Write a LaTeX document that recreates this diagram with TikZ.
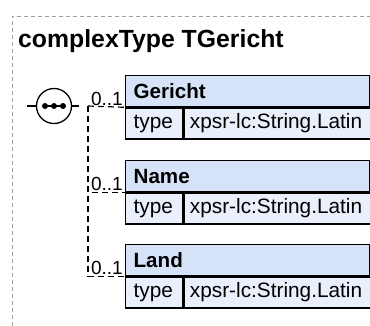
\documentclass[tikz,border=0pt]{standalone}
\usepackage{fontspec}
\setmainfont{Liberation Sans}
\definecolor{headblue}{RGB}{214,226,247}
\definecolor{rowblue}{RGB}{234,240,251}
\definecolor{framegray}{RGB}{160,160,160}
\begin{document}
\begin{tikzpicture}[x=1pt,y=-1pt,
  elhead/.style={draw, line width=1.3pt, fill=headblue, anchor=north west,
    minimum height=31pt, inner xsep=8pt, inner ysep=0pt, text width=228pt,
    align=left, font=\fontsize{20.6}{24}\selectfont\bfseries},
  typecell/.style={draw, line width=1.3pt, fill=rowblue, anchor=north west,
    minimum height=31pt, inner xsep=8pt, inner ysep=0pt, text width=41pt,
    align=left, font=\fontsize{20.8}{24}\selectfont},
  valcell/.style={typecell, inner xsep=6pt, text width=175pt},
  optline/.style={line width=1.2pt, dash pattern=on 6pt off 4pt},
  card/.style={anchor=south east, inner xsep=2pt, inner ysep=1pt,
    font=\fontsize{19}{21}\selectfont}]
  \useasboundingbox (0,0) rectangle (370,325);
  % frame of the complex type
  \draw[framegray, line width=0.8pt, dash pattern=on 4pt off 3pt]
    (12,340) -- (12,16) -- (385,16);
  \node[anchor=base west, inner sep=0pt, font=\fontsize{24.8}{28}\selectfont\bfseries]
    (title) at (18,47) {complexType TGericht};
  % sequence
  \node[draw, circle, line width=1.3pt, minimum size=35pt, inner sep=0pt] (seq) at (54,106) {};
  \draw[line width=1.5pt] (45,106) -- (63,106);
  \fill (45,106) circle (3);
  \fill (54,106) circle (3);
  \fill (63,106) circle (3);
  \coordinate (seqin) at (27,106);
  \coordinate (seqout) at (79,106);
  \coordinate (fork) at (88,106);
  \draw[line width=1.2pt] (seqin) -- (seq.west);
  \draw[line width=1.2pt] (seq.east) -- (seqout);
  % elements
  \node[elhead] (gericht) at (125,75) {Gericht};
  \node[typecell] (gerichttype) at (gericht.south west) {type};
  \node[valcell] (gerichtval) at (gerichttype.north east) {xpsr-lc:String.Latin};
  \node[elhead] (name) at (125,160) {Name};
  \node[typecell] (nametype) at (name.south west) {type};
  \node[valcell] (nameval) at (nametype.north east) {xpsr-lc:String.Latin};
  \node[elhead] (land) at (125,244) {Land};
  \node[typecell] (landtype) at (land.south west) {type};
  \node[valcell] (landval) at (landtype.north east) {xpsr-lc:String.Latin};
  % connectors
  \draw[optline] (fork) -- (gericht.south west);
  \draw[optline] (fork) |- (name.south west);
  \draw[optline] (fork) |- (land.south west);
  \node[card] (gerichtcard) at (gericht.south west) {0..1};
  \node[card] (namecard) at (name.south west) {0..1};
  \node[card] (landcard) at (land.south west) {0..1};
\end{tikzpicture}
\end{document}
